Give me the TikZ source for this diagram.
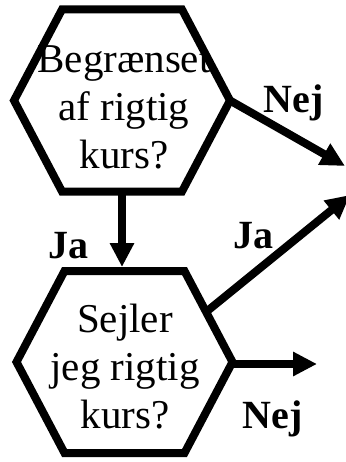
\documentclass[tikz,border=0pt]{standalone}
\usepackage{fontspec}
\setmainfont{Liberation Serif}
\usetikzlibrary{calc, arrows.meta}

\tikzset{
    hexline/.style={line width=8pt, line join=miter},
    flow/.style={line width=8pt, -{Triangle[length=24pt, width=23pt]}},
    question/.style={align=center, inner sep=0pt, font=\fontsize{41}{48}\selectfont},
    answer/.style={anchor=base, inner sep=0pt, font=\fontsize{40}{48}\selectfont\bfseries}
}

\begin{document}
\begin{tikzpicture}[x=1pt, y=-1pt]
                \useasboundingbox (0,0) rectangle (345,462);
                \coordinate (q1) at (122,100.5);
                \coordinate (q2) at (124.5,362);
                \foreach \q in {q1, q2}{
                    \draw[hexline] ($(\q)+(-108,0)$) coordinate (\q-w)
                        -- ($(\q)+(-60,-91)$) coordinate (\q-nw)
                        -- ($(\q)+(60,-91)$) coordinate (\q-ne)
                        -- ($(\q)+(108,0)$) coordinate (\q-e)
                        -- ($(\q)+(60,91)$) coordinate (\q-se)
                        -- ($(\q)+(-60,91)$) coordinate (\q-sw)
                        -- cycle;
                    \coordinate (\q-n) at ($(\q-nw)!0.5!(\q-ne)$);
                    \coordinate (\q-s) at ($(\q-sw)!0.5!(\q-se)$);
                }
                \node[question] (t1) at (124,107) {Begrænset\\af rigtig\\kurs?};
                \node[question] (t2) at (125,367) {Sejler\\jeg rigtig\\kurs?};
                % free ends of the arrows
                \coordinate (nej1) at (345,166);
                \coordinate (ja2) at (350,195);
                \coordinate (nej2) at (317,364);
                \coordinate (ja2-start) at ($(q2-ne)!0.45!(q2-e)$);
                \draw[flow, shorten >=4pt] (q1-s) -- (q1-s |- q2-n);
                \draw[flow] (q1-e) -- (nej1);
                \draw[flow] (ja2-start) -- (ja2);
                \draw[flow] (q2-e |- nej2) -- (nej2);
                \node[answer] (n1) at (293.5,113) {Nej};
                \node[answer] (j1) at (68,258) {Ja};
                \node[answer] (j2) at (253,248) {Ja};
                \node[answer] (n2) at (272.5,428) {Nej};
            \end{tikzpicture}
\end{document}
